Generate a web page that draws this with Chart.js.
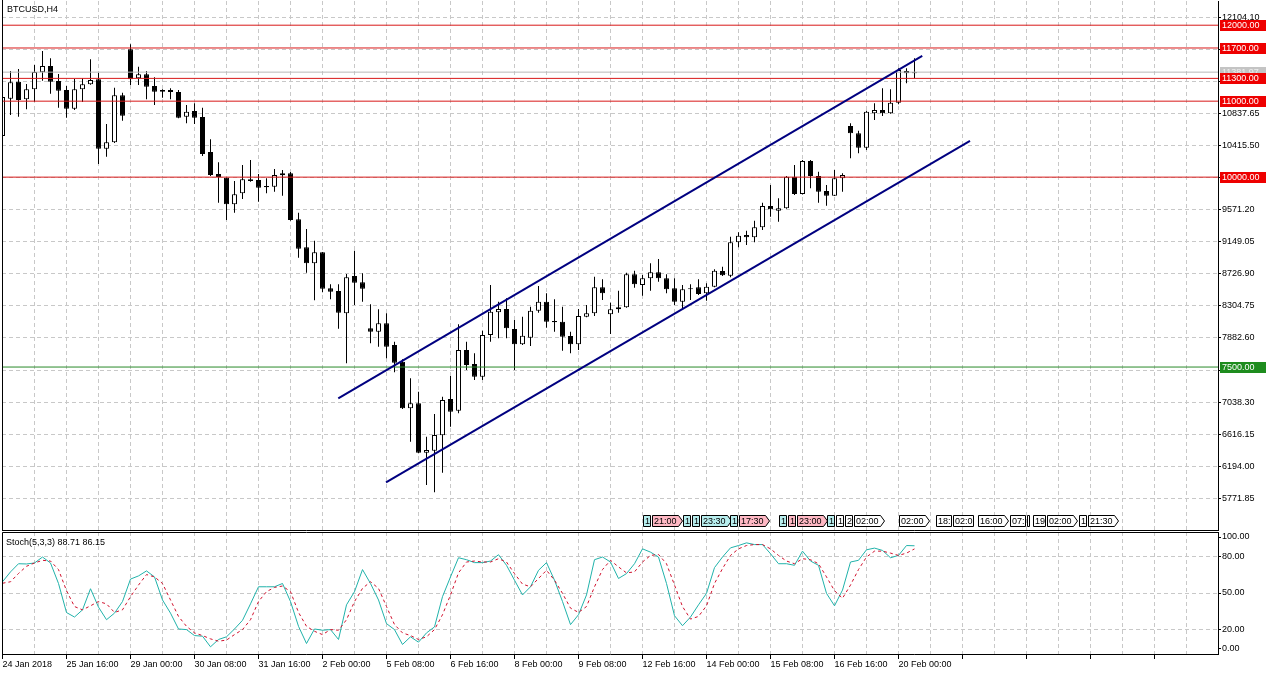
<!DOCTYPE html>
<html>
<head>
<meta charset="utf-8">
<script src="https://cdn.jsdelivr.net/npm/chart.js@4.4.1/dist/chart.umd.min.js"></script>
<style>
    body { margin: 0; background: #fff; }
    #wrap { position: relative; width: 1276px; height: 675px; overflow: hidden; }
    #priceBox { position: absolute; left: 0; top: 0; width: 1276px; height: 531px; }
    #stochBox { position: absolute; left: 0; top: 530px; width: 1276px; height: 145px; }
</style>
</head>
<body>
<div id="wrap">
    <div id="priceBox"><canvas id="priceChart"></canvas></div>
    <div id="stochBox"><canvas id="stochChart"></canvas></div>
</div>
<script>
// H4 bars, 24 Jan 2018 08:00 .. 20 Feb 2018 (weekends skipped)
const dateLabels = ["24 Jan 2018", "25 Jan 16:00", "29 Jan 00:00", "30 Jan 08:00", "31 Jan 16:00",
    "2 Feb 00:00", "5 Feb 08:00", "6 Feb 16:00", "8 Feb 00:00", "9 Feb 08:00", "12 Feb 16:00",
    "14 Feb 00:00", "15 Feb 08:00", "16 Feb 16:00", "20 Feb 00:00"];

const priceTicks = [12104.10, 11681.95, 11259.80, 10837.65, 10415.50, 9993.35, 9571.20, 9149.05,
    8726.90, 8304.75, 7882.60, 7460.45, 7038.30, 6616.15, 6194.00, 5771.85];
const stochTickLabels = ["100.00", "80.00", "50.00", "20.00", "0.00"];

const openPrices = [10541, 11033, 11256, 11025, 11156, 11380, 11463, 11266, 11147, 10901,
    11156, 11222, 11288, 10374, 10459, 11077, 11683, 11301, 11354, 11200,
    11147, 11147, 11121, 10796, 10871, 10792, 10331, 10041, 9992, 9642,
    9787, 9971, 9962, 9883, 9874, 10024, 10050, 9445, 9076, 8866,
    9010, 8536, 8501, 8207, 8698, 8615, 8010, 7965, 8076, 7790,
    7570, 6957, 7023, 6372, 6399, 6601, 7079, 6925, 7724, 7540,
    7373, 7922, 8221, 8264, 8001, 7799, 7886, 8242, 8360, 8106,
    8097, 7909, 7799, 8163, 8207, 8550, 8194, 8260, 8286, 8721,
    8580, 8668, 8747, 8668, 8536, 8360, 8536, 8550, 8471, 8558,
    8764, 8702, 9142, 9238, 9208, 9340, 9620, 9558, 9590, 10006,
    9778, 10212, 10015, 9817, 9756, 9985, 10673, 10577, 10387, 10840,
    10884, 10840, 10980, 11397, 11367];
const highPrices = [11081, 11397, 11423, 11226, 11476, 11660, 11564, 11358, 11200, 11292,
    11301, 11551, 11375, 10699, 11177, 11111, 11749, 11454, 11397, 11314,
    11156, 11169, 11147, 10950, 10972, 10914, 10498, 10195, 9995, 9949,
    10160, 10226, 10041, 9985, 10107, 10094, 10068, 9532, 9317, 9163,
    9015, 8589, 8589, 8725, 9031, 8734, 8326, 8260, 8207, 7834,
    7602, 7352, 7175, 6583, 6882, 7109, 7382, 8063, 7834, 7681,
    7978, 8580, 8360, 8405, 8119, 8163, 8294, 8567, 8471, 8392,
    8294, 7965, 8264, 8317, 8689, 8655, 8347, 8505, 8742, 8768,
    8712, 8866, 8922, 8721, 8668, 8580, 8589, 8655, 8602, 8787,
    8821, 9216, 9274, 9295, 9426, 9663, 9896, 9721, 10015, 10160,
    10226, 10226, 10071, 9896, 10094, 10050, 10709, 10611, 10875, 10972,
    11169, 11156, 11433, 11433, 11564];
const lowPrices = [10528, 10818, 10796, 10893, 10993, 11269, 11098, 10914, 10782, 10884,
    10989, 11215, 10173, 10269, 10450, 10743, 11213, 11213, 11025, 10950,
    11046, 11025, 10774, 10709, 10699, 10278, 10015, 9663, 9436, 9532,
    9712, 9940, 9677, 9787, 9808, 9756, 9426, 8939, 8742, 8379,
    8484, 8392, 8005, 7549, 8317, 8360, 7812, 7768, 7615, 7431,
    6948, 6517, 6364, 5947, 5851, 6109, 6715, 6891, 7461, 7329,
    7329, 7834, 7878, 7878, 7461, 7790, 7777, 8215, 8018, 7965,
    7715, 7681, 7724, 8155, 8172, 8382, 7935, 8215, 8280, 8544,
    8439, 8505, 8623, 8471, 8317, 8264, 8382, 8448, 8373, 8550,
    8700, 8681, 9076, 9107, 9142, 9304, 9479, 9413, 9583, 9765,
    9770, 9853, 9663, 9624, 9750, 9808, 10248, 10314, 10357, 10752,
    10805, 10835, 10959, 11235, 11301];
const closePrices = [11055, 11248, 11015, 11156, 11384, 11463, 11256, 11138, 10901, 11156,
    11222, 11279, 10374, 10459, 11077, 10809, 11288, 11354, 11190, 11125,
    11125, 11121, 10782, 10861, 10782, 10304, 10028, 10002, 9642, 9774,
    9971, 9949, 9861, 9866, 10028, 10050, 9436, 9058, 8866, 9010,
    8531, 8492, 8215, 8681, 8610, 8531, 7965, 8076, 7768, 7557,
    6957, 7023, 6372, 6408, 6605, 7066, 6912, 7724, 7527, 7373,
    7922, 8228, 8264, 8010, 7799, 7912, 8242, 8360, 8097, 8089,
    7899, 7799, 8172, 8207, 8550, 8471, 8260, 8286, 8721, 8589,
    8668, 8747, 8668, 8523, 8360, 8523, 8523, 8461, 8558, 8768,
    8708, 9142, 9229, 9208, 9340, 9620, 9576, 9590, 10006, 9778,
    10212, 10015, 9808, 9756, 9985, 10028, 10577, 10387, 10861, 10884,
    10840, 10980, 11410, 11367, 11381.97];

const stochMain = [59.2, 67.3, 74, 73.8, 74.6, 79.5, 74.6, 57.8, 34, 30.3,
    36.2, 53.5, 38.4, 28.1, 33.5, 43, 61.4, 64, 68.1, 63.2,
    44.3, 33.5, 20.5, 20, 15.1, 14.6, 5.9, 11.9, 14.1, 20.5,
    27.6, 41.1, 55.1, 55.1, 55.1, 57.8, 43, 22.7, 8.6, 20.5,
    19.5, 20, 11.9, 40.3, 51.1, 69.2, 57.8, 44.3, 24.9, 20,
    7.8, 14.1, 9.7, 17.3, 22.2, 47, 63.2, 78.9, 77.3, 74.9,
    74.9, 76.2, 81.4, 72.7, 60.5, 48.4, 55.1, 68.6, 74.9, 60.5,
    43, 24.1, 32.2, 48.4, 77.3, 79.5, 75.4, 61.9, 65.9, 74,
    86.2, 83.5, 79.5, 57.8, 31.4, 23.2, 30.3, 40.3, 49.7, 70.8,
    79.5, 87, 88.9, 91.1, 89.7, 89.7, 82.2, 74, 74, 72.7,
    84.3, 76.2, 72.7, 49.7, 39.5, 52.4, 75.4, 76.8, 85.4, 86.8,
    84.9, 78.9, 80.8, 88.9, 88.71];
const stochSignal = [58, 59.2, 66, 71.9, 74.6, 76.8, 76.2, 69.2, 51.9, 38.9,
    36.2, 39.5, 43, 41.1, 34.1, 36.2, 47, 56.5, 65.1, 63.2,
    57.8, 44.3, 30.8, 22.7, 17.3, 15.1, 12.4, 10.5, 11.4, 15.9,
    20, 28.1, 43, 51.1, 54.6, 55.7, 51.1, 34.1, 22.7, 18.6,
    15.9, 20, 19.5, 28.1, 43, 53.8, 59.2, 53.8, 38.9, 24.1,
    17.3, 15.1, 11.9, 14.1, 20, 32.2, 48.4, 66.5, 75.4, 76.2,
    75.4, 75.4, 78.1, 75.4, 65.9, 57.3, 55.1, 61.9, 68.6, 60.5,
    49.7, 37.6, 34.1, 38.9, 55.1, 69.2, 76.8, 71.4, 66.5, 67.3,
    75.4, 80.8, 81.6, 74, 56.5, 38.9, 28.6, 30.8, 39.5, 57.8,
    70, 80.8, 86.2, 88.9, 89.7, 89.7, 86.2, 80.8, 76.2, 74,
    78.1, 77.3, 74, 63.2, 51.9, 45.7, 56.5, 69.2, 79.5, 84.3,
    84.3, 82.7, 80.8, 82.7, 86.15];

const redLevels = [12000, 11700, 11300, 11000, 10000];
const greenLevels = [7500];
const bidPrice = 11381.97;

// trend channel anchors: [bar index, price]
const upperChannel = [[41.97, 7088], [114.97, 11595]];
const lowerChannel = [[47.94, 5983], [120.94, 10476]];

const markerGroups = [
    { x: 643, items: [["1", "c"], ["21:00", "p", true]] },
    { x: 683, items: [["1", "c"], ["1", "c"], ["23:30", "c", true]] },
    { x: 730, items: [["1", "c"], ["17:30", "p", true]] },
    { x: 779, items: [["1", "c"], ["1", "p"], ["23:00", "p", true]] },
    { x: 827, items: [["1", "c"], ["1", "w"], ["2", "w"], ["02:00", "w", true]] },
    { x: 899, items: [["02:00", "w", true]] },
    { x: 936, items: [["18:", "w"], ["02:0", "w"]] },
    { x: 978, items: [["16:00", "w", true], ["07:", "w"], ["", "w"]] },
    { x: 1033, items: [["19", "w"], ["02:00", "w", true], ["1", "w"], ["21:30", "w", true]] }
];

const FONT = "9px 'Liberation Sans', Arial, sans-serif";
const BAR_MIN = -0.0625;
const BAR_MAX = 151.9375;
const GRID = "#c8c8c8";

Chart.defaults.font.family = "'Liberation Sans', Arial, sans-serif";
Chart.defaults.font.size = 9;
Chart.defaults.color = "#000";

function levelLine(value, color) {
    return {
        type: "line",
        data: [{ x: BAR_MIN, y: value }, { x: BAR_MAX, y: value }],
        borderColor: color,
        borderWidth: 1,
        pointRadius: 0
    };
}

function channelLine(points) {
    return {
        type: "line",
        data: points.map(p => ({ x: p[0], y: p[1] })),
        borderColor: "#000080",
        borderWidth: 2,
        pointRadius: 0
    };
}

function everyFourBars(scale) {
    const ticks = [];
    for (let k = 0; k < BAR_MAX; k += 4) ticks.push({ value: k });
    scale.ticks = ticks;
}

// keep the plot area where the panel frame is, labels may overhang
function noEdgePadding(scale) {
    scale.paddingTop = 0;
    scale.paddingBottom = 0;
    scale.paddingLeft = 0;
    scale.paddingRight = 0;
}

function drawMarkers(ctx) {
    const tones = { c: "#b8eeee", p: "#ffb8c4", w: "#ffffff" };
    ctx.font = FONT;
    ctx.textBaseline = "middle";
    ctx.lineWidth = 1;
    markerGroups.forEach(group => {
        let x = group.x;
        group.items.forEach(([text, tone, arrow]) => {
            const w = Math.round(ctx.measureText(text).width) + (arrow ? 7 : 2);
            const top = 515.5, h = 11;
            ctx.beginPath();
            ctx.moveTo(x + 0.5, top);
            if (arrow) {
                ctx.lineTo(x + w - 3.5, top);
                ctx.lineTo(x + w + 0.5, top + h / 2);
                ctx.lineTo(x + w - 3.5, top + h);
            } else {
                ctx.lineTo(x + w + 0.5, top);
                ctx.lineTo(x + w + 0.5, top + h);
            }
            ctx.lineTo(x + 0.5, top + h);
            ctx.closePath();
            ctx.fillStyle = tones[tone];
            ctx.fill();
            ctx.strokeStyle = "#000";
            ctx.stroke();
            ctx.fillStyle = "#000";
            ctx.fillText(text, x + 2, top + h / 2 + 0.5);
            x += w + 2;
        });
    });
}

const priceDecor = {
    id: "priceDecor",
    afterDraw(chart) {
        const { ctx, chartArea: area, scales } = chart;
        ctx.save();
        // left frame
        ctx.strokeStyle = "#000";
        ctx.lineWidth = 1;
        ctx.beginPath();
        ctx.moveTo(area.left + 0.5, 0);
        ctx.lineTo(area.left + 0.5, area.bottom);
        ctx.stroke();

        ctx.font = FONT;
        ctx.textBaseline = "middle";
        ctx.fillStyle = "#000";
        ctx.fillText("BTCUSD,H4", 7, 10);

        drawMarkers(ctx);

        // price tags on the right axis
        const tags = [{ value: bidPrice, bg: "#c4c4c4", fg: "#eeeeee" }];
        redLevels.forEach(v => tags.push({ value: v, bg: "#ee0000", fg: "#ffffff" }));
        greenLevels.forEach(v => tags.push({ value: v, bg: "#1e8c1e", fg: "#ffffff" }));
        ctx.font = FONT;
        tags.forEach(tag => {
            const y = Math.round(scales.y.getPixelForValue(tag.value));
            ctx.fillStyle = tag.bg;
            ctx.fillRect(area.right + 2, y - 5, 46, 11);
            ctx.fillStyle = tag.fg;
            ctx.fillText(tag.value.toFixed(2), area.right + 4, y + 1);
        });
        ctx.restore();
    }
};

const stochDecor = {
    id: "stochDecor",
    afterDraw(chart) {
        const { ctx, chartArea: area } = chart;
        ctx.save();
        ctx.strokeStyle = "#000";
        ctx.lineWidth = 1;
        ctx.beginPath();
        ctx.moveTo(area.left + 0.5, area.bottom);
        ctx.lineTo(area.left + 0.5, area.top + 0.5);
        ctx.lineTo(area.right, area.top + 0.5);
        ctx.stroke();
        ctx.font = FONT;
        ctx.textBaseline = "middle";
        ctx.fillStyle = "#000";
        ctx.fillText("Stoch(5,3,3) " + stochMain[stochMain.length - 1].toFixed(2) + " " +
            stochSignal[stochSignal.length - 1].toFixed(2), 6, area.top + 11);
        ctx.restore();
    }
};

function createPriceChart() {
    const bodies = openPrices.map((o, i) => ({ x: i, y: [Math.min(o, closePrices[i]), Math.max(o, closePrices[i])] }));
    const wicks = highPrices.map((h, i) => ({ x: i, y: [lowPrices[i], h] }));

    const datasets = [
        channelLine(upperChannel),
        channelLine(lowerChannel),
        ...redLevels.map(v => levelLine(v, "#d81818")),
        ...greenLevels.map(v => levelLine(v, "#2a8a2a")),
        levelLine(bidPrice, "#b8b8b8"),
        {
            type: "bar",
            data: bodies,
            barThickness: 5,
            grouped: false,
            borderWidth: 1,
            borderSkipped: false,
            borderColor: "#000",
            inflateAmount: 0,
            minBarLength: 1,
            backgroundColor: ctx => closePrices[ctx.dataIndex] >= openPrices[ctx.dataIndex] ? "#fff" : "#000"
        },
        {
            type: "bar",
            data: wicks,
            barThickness: 1,
            grouped: false,
            borderWidth: 0,
            inflateAmount: 0,
            backgroundColor: "#000"
        }
    ];

    new Chart(document.getElementById("priceChart"), {
        type: "bar",
        data: { datasets },
        options: {
            responsive: true,
            maintainAspectRatio: false,
            animation: false,
            layout: { padding: { left: 2, top: 1, right: 0, bottom: 1 } },
            plugins: { legend: { display: false }, tooltip: { enabled: false } },
            scales: {
                x: {
                    type: "linear",
                    offset: false,
                    min: BAR_MIN,
                    max: BAR_MAX,
                    afterBuildTicks: everyFourBars,
                    afterFit: s => { s.height = 0; noEdgePadding(s); },
                    ticks: { display: false },
                    grid: { color: GRID, drawTicks: false, offset: false },
                    border: { display: true, color: "#000", dash: [4, 3] }
                },
                y: {
                    position: "right",
                    min: 5354.6,
                    max: 12318.7,
                    afterBuildTicks: s => { s.ticks = priceTicks.map(v => ({ value: v })); },
                    afterFit: s => { s.width = 58; noEdgePadding(s); },
                    ticks: { padding: 1, callback: v => v.toFixed(2) },
                    grid: { color: GRID, tickLength: 3, tickColor: "#000" },
                    border: { display: true, color: "#000", dash: [4, 3] }
                }
            }
        },
        plugins: [priceDecor]
    });
}

function createStochChart() {
    new Chart(document.getElementById("stochChart"), {
        type: "line",
        data: {
            datasets: [
                {
                    data: stochSignal.map((v, i) => ({ x: i, y: v })),
                    borderColor: "#d0102c",
                    borderWidth: 1,
                    borderDash: [3, 3],
                    pointRadius: 0
                },
                {
                    data: stochMain.map((v, i) => ({ x: i, y: v })),
                    borderColor: "#20b2aa",
                    borderWidth: 1,
                    pointRadius: 0
                }
            ]
        },
        options: {
            responsive: true,
            maintainAspectRatio: false,
            animation: false,
            layout: { padding: { left: 2, top: 2, right: 0, bottom: 0 } },
            plugins: { legend: { display: false }, tooltip: { enabled: false } },
            scales: {
                x: {
                    type: "linear",
                    offset: false,
                    min: BAR_MIN,
                    max: BAR_MAX,
                    afterBuildTicks: everyFourBars,
                    afterFit: s => { s.height = 21; noEdgePadding(s); },
                    ticks: {
                        align: "start",
                        maxRotation: 0,
                        autoSkip: false,
                        padding: 0,
                        callback: v => (v % 8 === 0 && dateLabels[v / 8]) || ""
                    },
                    grid: {
                        color: GRID,
                        offset: false,
                        tickLength: 5,
                        tickColor: c => (c.tick && c.tick.value % 8 === 0) ? "#000" : "rgba(0,0,0,0)"
                    },
                    border: { display: true, color: "#000", dash: [4, 3] }
                },
                y: {
                    position: "right",
                    min: 0,
                    max: 100,
                    // top and bottom labels sit just inside the panel, like the terminal does
                    afterBuildTicks: s => { s.ticks = [95.9, 80, 50, 20, 4.7].map(v => ({ value: v })); },
                    afterFit: s => { s.width = 58; noEdgePadding(s); },
                    ticks: { padding: 1, callback: (v, i) => stochTickLabels[i] },
                    grid: {
                        color: c => (c.index === 0 || c.index === 4) ? "rgba(0,0,0,0)" : GRID,
                        tickLength: 3,
                        tickColor: "#000"
                    },
                    border: { display: true, color: "#000", dash: [4, 3] }
                }
            }
        },
        plugins: [stochDecor]
    });
}

createPriceChart();
createStochChart();
</script>
</body>
</html>
